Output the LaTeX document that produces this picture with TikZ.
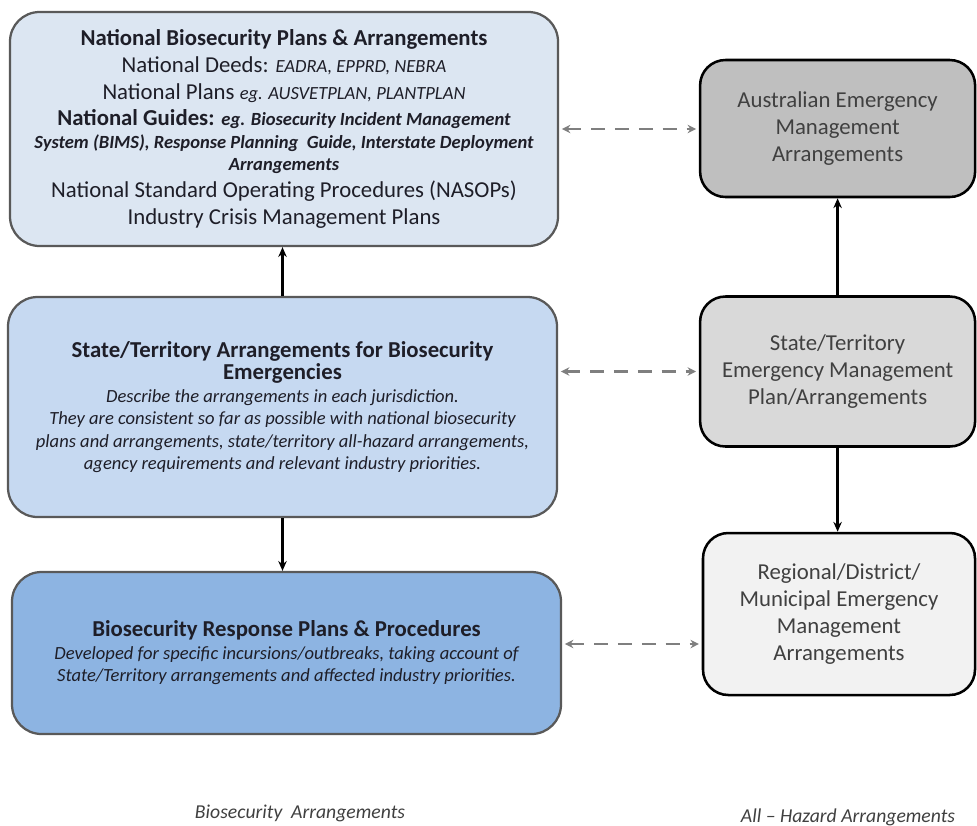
\documentclass[tikz,border=0pt]{standalone}
\usepackage{fontspec}
\setmainfont{Carlito}
\usepackage{xcolor}
\usetikzlibrary{arrows.meta,positioning}
\definecolor{natfill}{HTML}{DCE6F2}
\definecolor{statefill}{HTML}{C6D9F1}
\definecolor{respfill}{HTML}{8DB4E2}
\definecolor{ausfill}{HTML}{BFBFBF}
\definecolor{stemfill}{HTML}{D9D9D9}
\definecolor{regfill}{HTML}{F2F2F2}
\definecolor{edge}{HTML}{595959}
\definecolor{ink}{HTML}{1E1E28}
\definecolor{hazink}{HTML}{404040}
\definecolor{dashgray}{HTML}{7F7F7F}
\newcommand{\noteit}[1]{{\fontsize{13.2}{15.6}\selectfont\itshape #1}}
\newcommand{\notebf}[1]{{\fontsize{13.2}{15.6}\selectfont\bfseries\itshape #1}}
\tikzset{
  bio/.style={draw=edge, line width=1.6pt, rounded corners=21pt, align=center, text=ink, inner sep=0pt},
  haz/.style={draw=black, line width=1.8pt, rounded corners=18pt, align=center, text=hazink, inner sep=0pt,
    minimum width=6.875cm, font=\fontsize{16.2}{19}\selectfont},
  link/.style={-{Stealth[length=7pt,width=6pt]}, line width=1.6pt, draw=black},
  peer/.style={{Stealth[length=6pt,width=6pt]}-{Stealth[length=6pt,width=6pt]}, dash pattern=on 10pt off 7pt,
    draw=dashgray, line width=1.8pt, shorten >=2pt, shorten <=2pt},
  foot/.style={font=\fontsize{14}{16}\selectfont\itshape, text=hazink},
}

\begin{document}
\begin{tikzpicture}
  \useasboundingbox (0,0) rectangle (24.425,-20.625);
  % biosecurity arrangements (left column)
  \node[bio, fill=natfill, minimum width=13.7cm, minimum height=5.85cm,
    font=\fontsize{16.2}{19}\selectfont] (nat) at (7.1,-3.225)
    {\textbf{National Biosecurity Plans \& Arrangements}\\
     National Deeds: \noteit{EADRA, EPPRD, NEBRA}\\
     National Plans \noteit{eg. AUSVETPLAN, PLANTPLAN}\\
     \textbf{National Guides:} \notebf{eg. Biosecurity Incident Management}\\[-3pt]
     \notebf{System (BIMS), Response Planning\ \ Guide, Interstate Deployment}\\[-3pt]
     \notebf{Arrangements}\\
     National Standard Operating Procedures (NASOPs)\\
     Industry Crisis Management Plans};
  \node[bio, fill=statefill, minimum width=13.725cm, minimum height=5.5cm,
    font=\fontsize{13.2}{16}\selectfont] (state) at (7.0625,-10.175)
    {{\fontsize{16.2}{17}\selectfont\bfseries State/Territory Arrangements for Biosecurity}\\
     {\fontsize{16.2}{17}\selectfont\bfseries Emergencies}\\
     \itshape Describe the arrangements in each jurisdiction.\\
     \itshape They are consistent so far as possible with national biosecurity\\
     \itshape plans and arrangements, state/territory all-hazard arrangements,\\
     \itshape agency requirements and relevant industry priorities.};
  \node[bio, fill=respfill, minimum width=13.725cm, minimum height=4.05cm,
    font=\fontsize{13.2}{16}\selectfont] (resp) at (7.1625,-16.325)
    {{\fontsize{16.2}{17}\selectfont\bfseries Biosecurity Response Plans \& Procedures}\\
     \itshape Developed for specific incursions/outbreaks, taking account of\\
     \itshape State/Territory arrangements and affected industry priorities.};

  % all-hazard arrangements (right column)
  \node[haz, fill=ausfill, minimum height=3.425cm] (aus) at (20.94,-3.2125)
    {Australian Emergency\\ Management\\ Arrangements};
  \node[haz, fill=stemfill, minimum height=3.75cm] (stem) at (20.94,-9.2875)
    {State/Territory\\ Emergency Management\\ Plan/Arrangements};
  \node[haz, fill=regfill, minimum width=6.8cm, minimum height=4.05cm] (reg) at (20.975,-15.35)
    {Regional/District/\\ Municipal Emergency\\ Management\\ Arrangements};

  % connectors
  \draw[link] (state.north) -- (state.north |- nat.south);
  \draw[link] (state.south -| resp.north) ++(-0.1,0) coordinate (sb) -- (sb |- resp.north);
  \draw[link] (stem.north) -- (stem.north |- aus.south);
  \draw[link] (stem.south) -- (stem.south |- reg.north);
  \draw[peer] (nat.east) -- (nat.east -| aus.west);
  \draw[peer] (state.east |- stem.west) -- (stem.west);
  \draw[peer] ([yshift=0.225cm]resp.east) coordinate (re) -- (re -| reg.west);

  % column captions
  \node[foot] (biocap) at (7.5,-20.325) {Biosecurity\ \ Arrangements};
  \node[foot] (hazcap) at (21.2,-20.425) {All -- Hazard Arrangements};
\end{tikzpicture}
\end{document}
